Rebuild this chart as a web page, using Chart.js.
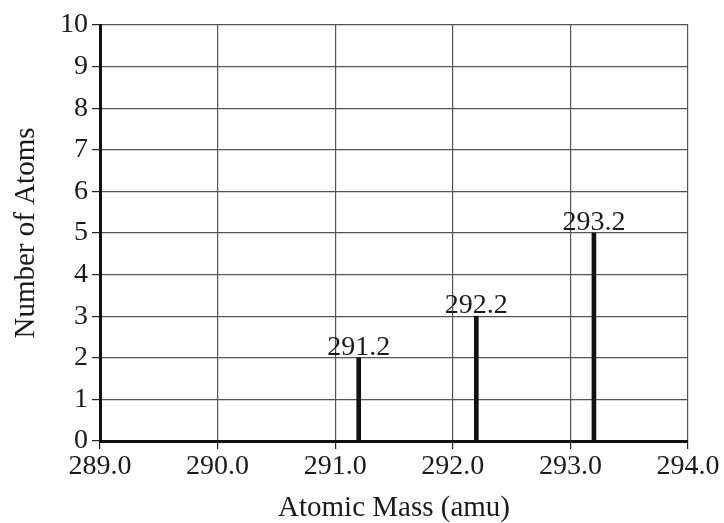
<!DOCTYPE html>
<html>
<head>
<meta charset="utf-8">
<script src="https://cdn.jsdelivr.net/npm/chart.js@4/dist/chart.umd.min.js"></script>
<style>
  html, body { margin: 0; padding: 0; background: #fff; }
  #wrap { width: 724px; height: 523px; }
</style>
</head>
<body>
<div id="wrap"><canvas id="chart"></canvas></div>
<script>
// atomic masses (amu) and how many atoms were found at each
var masses = [291.2, 292.2, 293.2];
var atomCounts = [2, 3, 5];
var massLabels = ['291.2', '292.2', '293.2'];

var xMin = 289, xMax = 294;
var yMin = 0, yMax = 10;

var serif = '"Liberation Serif", "Times New Roman", serif';

// write the mass above each stem
var stemLabels = {
  id: 'stemLabels',
  afterDatasetsDraw: function(chart) {
    var ctx = chart.ctx;
    var meta = chart.getDatasetMeta(0);
    ctx.save();
    ctx.font = '28px ' + serif;
    ctx.fillStyle = '#1a1a1a';
    ctx.textAlign = 'center';
    ctx.textBaseline = 'alphabetic';
    meta.data.forEach(function(bar, i) {
      ctx.fillText(massLabels[i], bar.x, bar.y - 3);
    });
    ctx.restore();
  }
};

var points = masses.map(function(m, i) {
  return { x: m, y: atomCounts[i] };
});

new Chart(document.getElementById('chart'), {
  type: 'bar',
  data: {
    datasets: [{
      label: 'Number of Atoms',
      data: points,
      backgroundColor: '#111',
      borderWidth: 0,
      barThickness: 4
    }]
  },
  options: {
    responsive: true,
    maintainAspectRatio: false,
    animation: false,
    layout: { padding: { top: 25, right: 36, left: 0, bottom: 0 } },
    plugins: {
      legend: { display: false },
      tooltip: { enabled: false }
    },
    scales: {
      x: {
        type: 'linear',
        min: xMin,
        max: xMax,
        offset: false,
        ticks: {
          stepSize: 1,
          color: '#1a1a1a',
          font: { family: serif, size: 28 },
          padding: 1,
          maxRotation: 0,
          callback: function(v) { return v.toFixed(1); }
        },
        grid: { offset: false, color: '#555', lineWidth: 1.2, tickLength: 8, tickColor: '#222' },
        border: { color: '#111', width: 3 },
        title: {
          display: true,
          text: 'Atomic Mass (amu)',
          color: '#1a1a1a',
          font: { family: serif, size: 29 },
          padding: { top: 0, bottom: -3 }
        },
        afterFit: function(scale) { scale.height = 82; }
      },
      y: {
        min: yMin,
        max: yMax,
        ticks: {
          stepSize: 1,
          color: '#1a1a1a',
          font: { family: serif, size: 28 },
          padding: 4
        },
        grid: { color: '#555', lineWidth: 1.2, tickLength: 8, tickColor: '#222' },
        border: { color: '#111', width: 3 },
        title: {
          display: true,
          text: 'Number of Atoms',
          color: '#1a1a1a',
          font: { family: serif, size: 29 },
          padding: { top: 9, bottom: 0 }
        },
        afterFit: function(scale) { scale.width = 100; }
      }
    }
  },
  plugins: [stemLabels]
});
</script>
</body>
</html>
